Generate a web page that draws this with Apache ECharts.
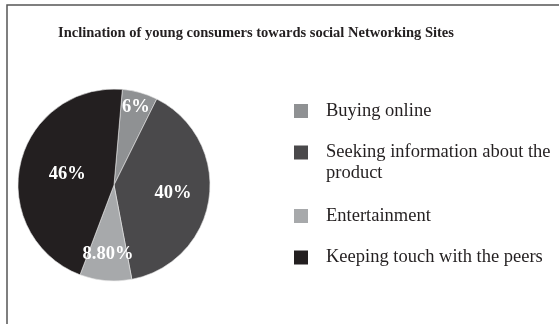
<!DOCTYPE html>
<html>
<head>
<meta charset="utf-8">
<script src="https://cdn.jsdelivr.net/npm/echarts@6/dist/echarts.min.js"></script>
<style>
  html, body { margin: 0; padding: 0; background: #fff; }
  #chart { width: 559px; height: 324px; }
</style>
</head>
<body>
<div id="chart"></div>
<script>
// Share of young consumers by main reason for using social networking sites
const categories = [
  'Buying online',
  'Seeking information about the product',
  'Entertainment',
  'Keeping touch with the peers'
];
const values = [6, 40, 8.8, 46];
const decimals = [0, 0, 2, 0];

const colors = ['#8f9193', '#4a494b', '#a7a9ab', '#231f20'];
const serif = '"Liberation Serif", "Times New Roman", serif';

const pieCenter = [114, 185];
const pieRadius = 96;
// how far out each value label sits, as a share of the radius
const labelReach = [0.84, 0.62, 0.72, 0.5];

// one legend block per entry so the wrapped entry keeps its swatch on the first line
const legendTops = [100.5, 121, 205.5, 247];
const legendWrapped = [false, true, false, false];

const chart = echarts.init(document.getElementById('chart'), null, { renderer: 'canvas' });

const legends = categories.map((name, i) => ({
  data: [name],
  orient: 'vertical',
  left: 294,
  top: legendTops[i],
  padding: 0,
  itemWidth: 14,
  itemHeight: 14,
  icon: 'rect',
  selectedMode: false,
  itemStyle: { borderWidth: 0 },
  // an empty leading row keeps the first wrapped line level with the swatch
  formatter: n => (legendWrapped[i] ? '\n' : '') + n,
  textStyle: {
    fontFamily: serif,
    fontSize: 18.5,
    color: '#231f20',
    lineHeight: 21,
    width: 235,
    overflow: 'break',
    padding: [0, 0, 0, 13]
  }
}));

chart.setOption({
  animation: false,
  color: colors,
  title: {
    text: 'Inclination of young consumers towards social Networking Sites',
    left: 58,
    top: 24,
    padding: 0,
    textStyle: {
      fontFamily: serif,
      fontWeight: 'bold',
      fontSize: 14.5,
      lineHeight: 18,
      color: '#231f20'
    }
  },
  legend: legends,
  graphic: [{
    type: 'rect',
    silent: true,
    shape: { x: 7, y: 5, width: 700, height: 500 },
    style: { fill: 'none', stroke: '#555555', lineWidth: 1.5 }
  }],
  series: [{
    type: 'pie',
    center: pieCenter,
    radius: pieRadius,
    startAngle: 85,
    clockwise: true,
    emphasis: { disabled: true },
    itemStyle: { borderColor: '#e6e6e6', borderWidth: 0.6 },
    label: {
      show: true,
      position: 'inside',
      fontFamily: serif,
      fontWeight: 'bold',
      fontSize: 18.5,
      color: '#ffffff',
      formatter: p => p.value.toFixed(decimals[p.dataIndex]) + '%'
    },
    labelLine: { show: false },
    labelLayout: p => {
      const r = p.labelRect;
      const lx = r.x + r.width / 2;
      const ly = r.y + r.height / 2;
      const vx = lx - pieCenter[0];
      const vy = ly - pieCenter[1];
      const len = Math.sqrt(vx * vx + vy * vy) || 1;
      const target = pieRadius * labelReach[p.dataIndex];
      return {
        dx: vx / len * target - vx,
        dy: vy / len * target - vy
      };
    },
    data: categories.map((name, i) => ({ name, value: values[i] }))
  }]
});
</script>
</body>
</html>
